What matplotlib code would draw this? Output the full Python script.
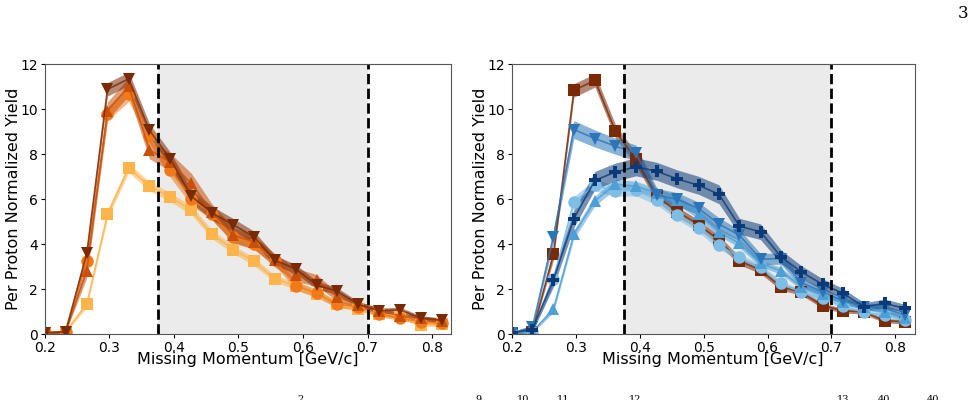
import matplotlib.pyplot as plt
import numpy as np

# missing momentum bin positions [GeV/c]
pmiss = [0.2, 0.232, 0.265, 0.297, 0.330, 0.362, 0.394, 0.427, 0.459, 0.492,
         0.524, 0.556, 0.589, 0.621, 0.653, 0.686, 0.718, 0.751, 0.783, 0.815]

# left panel
sq_l = [0.05, 0.1, 1.33, 5.33, 7.39, 6.58, 6.1, 5.51, 4.44, 3.76,
        3.23, 2.47, 2.13, 1.8, 1.32, 1.11, 0.89, 0.8, 0.42, 0.44]
sq_l_err = [0.05, 0.05, 0.15, 0.2, 0.2, 0.2, 0.2, 0.2, 0.2, 0.18,
            0.18, 0.15, 0.15, 0.12, 0.12, 0.1, 0.1, 0.1, 0.1, 0.1]
ci_l = [0.05, 0.1, 3.27, 9.8, 10.7, 8.8, 7.29, 6.03, 5.33, 4.33,
        4.0, 3.29, 2.15, 1.81, 1.32, 1.21, 0.89, 0.7, 0.55, 0.47]
ci_l_err = [0.05, 0.05, 0.25, 0.3, 0.35, 0.3, 0.3, 0.3, 0.25, 0.25,
            0.25, 0.2, 0.2, 0.18, 0.15, 0.12, 0.12, 0.1, 0.1, 0.1]
tu_l = [0.05, 0.1, 2.81, 9.93, 11.02, 8.2, 7.66, 6.7, 5.44, 4.4,
        4.1, 3.29, 2.62, 2.4, 1.66, 1.29, 1.04, 0.8, 0.7, 0.59]
tu_l_err = [0.05, 0.05, 0.3, 0.4, 0.4, 0.4, 0.4, 0.45, 0.35, 0.35,
            0.3, 0.3, 0.3, 0.25, 0.2, 0.15, 0.15, 0.12, 0.12, 0.1]
td_l = [0.05, 0.1, 3.59, 10.89, 11.36, 9.07, 7.81, 6.13, 5.39, 4.86,
        4.33, 3.29, 2.89, 2.18, 1.91, 1.32, 1.04, 1.07, 0.7, 0.62]
td_l_err = [0.05, 0.05, 0.3, 0.3, 0.3, 0.3, 0.3, 0.3, 0.3, 0.28,
            0.25, 0.22, 0.2, 0.18, 0.15, 0.12, 0.12, 0.12, 0.1, 0.1]

# right panel
sq_r = [0.05, 0.1, 3.54, 10.84, 11.29, 9.02, 7.78, 6.13, 5.44, 4.87,
        4.18, 3.26, 2.84, 2.1, 1.85, 1.26, 1.04, 0.98, 0.59, 0.55]
sq_r_err = [0.05, 0.05, 0.25, 0.3, 0.3, 0.3, 0.28, 0.25, 0.22, 0.2,
            0.2, 0.18, 0.15, 0.15, 0.12, 0.12, 0.1, 0.1, 0.1, 0.1]
td_r = [0.05, 0.3, 4.33, 9.1, 8.7, 8.36, 8.06, 6.18, 5.99, 5.59,
        4.89, 4.4, 3.33, 3.36, 2.28, 1.88, 1.48, 1.21, 1.14, 0.84]
td_r_err = [0.05, 0.1, 0.3, 0.4, 0.38, 0.36, 0.35, 0.3, 0.3, 0.28,
            0.28, 0.25, 0.25, 0.25, 0.2, 0.18, 0.15, 0.15, 0.15, 0.15]
pl_r = [0.05, 0.2, 2.4, 5.14, 6.84, 7.21, 7.44, 7.24, 6.9, 6.62,
        6.22, 4.8, 4.55, 3.44, 2.76, 2.21, 1.81, 1.21, 1.36, 1.14]
pl_r_err = [0.05, 0.1, 0.3, 0.4, 0.4, 0.4, 0.4, 0.4, 0.4, 0.4,
            0.42, 0.35, 0.35, 0.3, 0.28, 0.25, 0.22, 0.18, 0.2, 0.18]
tu_r = [0.05, 0.1, 1.1, 4.44, 5.93, 6.67, 6.58, 6.28, 5.96, 5.32,
        4.55, 4.03, 3.14, 2.81, 2.1, 1.76, 1.44, 1.21, 0.99, 0.7]
tu_r_err = [0.05, 0.05, 0.15, 0.2, 0.22, 0.22, 0.22, 0.2, 0.2, 0.2,
            0.18, 0.18, 0.15, 0.15, 0.12, 0.12, 0.1, 0.1, 0.1, 0.1]
ci_r = [0.05, 0.1, 2.45, 5.88, 6.62, 6.37, 6.4, 5.96, 5.29, 4.73,
        3.96, 3.41, 2.96, 2.25, 1.85, 1.59, 1.24, 0.96, 0.84, 0.62]
ci_r_err = [0.05, 0.05, 0.2, 0.25, 0.25, 0.25, 0.25, 0.22, 0.2, 0.2,
            0.18, 0.15, 0.15, 0.12, 0.12, 0.1, 0.1, 0.1, 0.1, 0.1]


def draw(ax, y, err, color, marker, ms=9, alpha=0.55):
    y = np.array(y)
    err = np.array(err)
    ax.fill_between(pmiss, y - err, y + err, color=color, alpha=alpha, lw=0)
    ax.plot(pmiss, y, color=color, lw=1.2, alpha=0.8)
    ax.plot(pmiss, y, ls='none', marker=marker, color=color, ms=ms, mew=0)


fig = plt.figure(figsize=(9.75, 4), dpi=100)
ax1 = fig.add_axes([0.046, 0.165, 0.417, 0.674])
ax2 = fig.add_axes([0.525, 0.165, 0.413, 0.674])

draw(ax1, sq_l, sq_l_err, '#fdb44b', 's', ms=9)
draw(ax1, ci_l, ci_l_err, '#f07a1a', 'o', ms=9)
draw(ax1, tu_l, tu_l_err, '#c8500a', '^', ms=8)
draw(ax1, td_l, td_l_err, '#7a2a05', 'v', ms=8)

draw(ax2, sq_r, sq_r_err, '#7a2a05', 's', ms=8)
draw(ax2, ci_r, ci_r_err, '#7dbde6', 'o', ms=9)
draw(ax2, tu_r, tu_r_err, '#4d9fd6', '^', ms=8)
draw(ax2, td_r, td_r_err, '#2b75b8', 'v', ms=8)
draw(ax2, pl_r, pl_r_err, '#0c3a78', 'P', ms=9)

for ax in (ax1, ax2):
    ax.axvspan(0.375, 0.7, color='#ebebeb', zorder=0, lw=0)
    ax.axvline(0.375, color='black', ls='--', lw=2)
    ax.axvline(0.7, color='black', ls='--', lw=2)
    ax.set_xlim(0.2, 0.83)
    ax.set_ylim(0, 12)
    ax.set_xticks([0.2, 0.3, 0.4, 0.5, 0.6, 0.7, 0.8])
    ax.set_yticks([0, 2, 4, 6, 8, 10, 12])
    ax.tick_params(labelsize=10, length=3, pad=2)
    for s in ax.spines.values():
        s.set_color('#555555')
    ax.set_xlabel('Missing Momentum [GeV/c]', fontsize=11.5, va='top')
    ax.set_ylabel('Per Proton Normalized Yield', fontsize=11.5, va='center')
    ax.xaxis.set_label_coords(0.5, -0.066)
    ax.yaxis.set_label_coords(-0.078, 0.5)

fig.text(0.988, 0.965, '3', family='DejaVu Serif', fontsize=12, ha='center', va='center')

# cut-off superscripts of the caption line below
for xp, s in [(300, '2'), (478, '9'), (523, '10'), (563, '11'), (635, '12'),
              (843, '13'), (884, '40'), (933, '40')]:
    fig.text(xp / 975, 0.012, s, family='DejaVu Serif', fontsize=7, ha='center', va='top')

fig.savefig('out.png', dpi=100)
